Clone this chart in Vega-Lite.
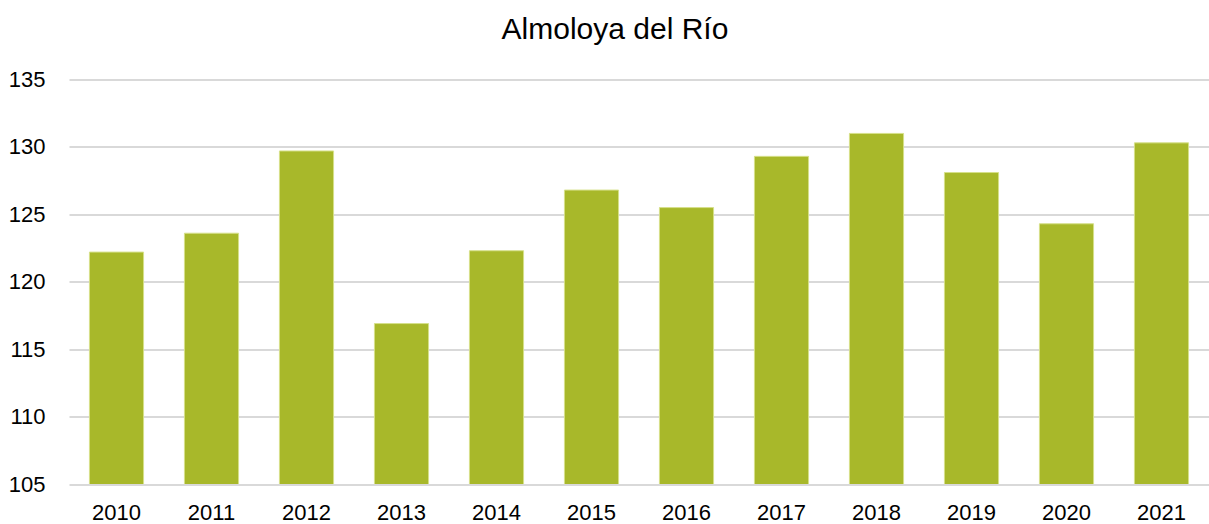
{
  "$schema": "https://vega.github.io/schema/vega-lite/v6.json",
  "autosize": "none",
  "width": 1140,
  "height": 404.5,
  "padding": {"left": 69, "top": 79.5, "right": 0, "bottom": 40},
  "background": "white",
  "config": {
    "view": {"stroke": null},
    "font": "Liberation Sans"
  },
  "title": {
    "text": "Almoloya del Río",
    "fontSize": 30,
    "fontWeight": "normal",
    "color": "#000000",
    "font": "Liberation Sans",
    "anchor": "middle",
    "offset": 24,
    "dx": -24
  },
  "data": {
    "values": [
      {"year": "2010", "value": 122.2},
      {"year": "2011", "value": 123.6},
      {"year": "2012", "value": 129.7},
      {"year": "2013", "value": 116.9},
      {"year": "2014", "value": 122.3},
      {"year": "2015", "value": 126.8},
      {"year": "2016", "value": 125.5},
      {"year": "2017", "value": 129.3},
      {"year": "2018", "value": 131.0},
      {"year": "2019", "value": 128.1},
      {"year": "2020", "value": 124.3},
      {"year": "2021", "value": 130.3}
    ]
  },
  "mark": {"type": "bar", "color": "#A8B82A", "stroke": "#D6E08A", "strokeWidth": 1, "clip": true},
  "encoding": {
    "x": {
      "field": "year",
      "type": "ordinal",
      "scale": {"paddingInner": 0.43, "paddingOuter": 0.215},
      "axis": {
        "title": null,
        "labelAngle": 0,
        "labelFontSize": 22,
        "labelColor": "#000000",
        "labelPadding": 18,
        "domain": false,
        "ticks": false,
        "grid": false
      }
    },
    "y": {
      "field": "value",
      "type": "quantitative",
      "scale": {"domain": [105, 135], "zero": false, "nice": false},
      "axis": {
        "title": null,
        "values": [105, 110, 115, 120, 125, 130, 135],
        "labelFontSize": 22,
        "labelColor": "#000000",
        "labelPadding": 24,
        "domain": false,
        "ticks": false,
        "grid": true,
        "gridColor": "#D9D9D9",
        "gridWidth": 2
      }
    }
  }
}
